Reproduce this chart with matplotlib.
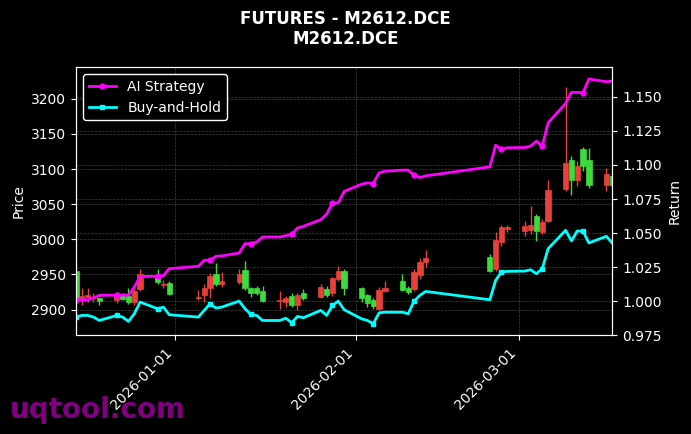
import numpy as np
import pandas as pd
import matplotlib
matplotlib.use('Agg')
import matplotlib.pyplot as plt
import matplotlib.dates as mdates
from matplotlib.ticker import FormatStrFormatter, MultipleLocator

# trading days
dates = ['2025-12-15', '2025-12-16', '2025-12-17', '2025-12-18', '2025-12-19',
         '2025-12-22', '2025-12-23', '2025-12-24', '2025-12-25', '2025-12-26',
         '2025-12-29', '2025-12-30', '2025-12-31', '2026-01-05', '2026-01-06',
         '2026-01-07', '2026-01-08', '2026-01-09', '2026-01-12', '2026-01-13',
         '2026-01-14', '2026-01-15', '2026-01-16', '2026-01-19', '2026-01-20',
         '2026-01-21', '2026-01-22', '2026-01-23', '2026-01-26', '2026-01-27',
         '2026-01-28', '2026-01-29', '2026-01-30', '2026-02-02', '2026-02-03',
         '2026-02-04', '2026-02-05', '2026-02-06', '2026-02-09', '2026-02-10',
         '2026-02-11', '2026-02-12', '2026-02-13', '2026-02-24', '2026-02-25',
         '2026-02-26', '2026-02-27', '2026-03-02', '2026-03-03', '2026-03-04',
         '2026-03-05', '2026-03-06', '2026-03-09', '2026-03-10', '2026-03-11',
         '2026-03-12', '2026-03-13', '2026-03-16', '2026-03-17']

opens = [2954.8, 2916, 2918, 2916, 2916, 2914, 2919, 2919, 2910, 2929,
         2948, 2935, 2937.5, 2916, 2920, 2930, 2950, 2937, 2939, 2956,
         2930, 2930, 2927, 2912, 2911, 2919, 2907, 2924, 2918, 2929,
         2924, 2944, 2955, 2930, 2920, 2913, 2901, 2927, 2941, 2930,
         2929, 2949, 2967, 2975, 2958, 2996, 3015, 3012, 3013, 3033,
         3010, 3026, 3071, 3112.5, 3084, 3128, 3112.5, 3078, 3090]
highs = [2955, 2930, 2930, 2924, 2917, 2925, 2923, 2930, 2929, 2957,
         2957, 2942, 2941, 2928, 2937, 2952, 2966, 2953, 2958, 2969,
         2932, 2934, 2933, 2927, 2919, 2923, 2923, 2929, 2936, 2933,
         2946, 2962, 2957, 2932, 2922, 2916, 2932, 2940, 2950, 2933,
         2957, 2973, 2985, 2979, 3010, 3021, 3021, 3026, 3048, 3036,
         3029, 3084, 3217, 3118, 3111, 3132, 3130, 3101, 3092]
lows = [2916, 2906, 2911, 2911, 2906, 2909, 2913, 2908, 2906, 2927,
        2937, 2930, 2920, 2913, 2911, 2916, 2934, 2932, 2936, 2928,
        2918, 2920, 2911, 2901, 2904, 2903, 2900, 2914, 2917, 2918,
        2919, 2940, 2921, 2910, 2904, 2901, 2899, 2925, 2926, 2922,
        2926, 2943, 2960, 2953, 2955, 2990, 3010, 3005, 3008, 2997,
        3008, 3024, 3069, 3063, 3076, 3097, 3073, 3069, 3075]
closes = [2916.5, 2919, 2921, 2918, 2911.5, 2922, 2915, 2910, 2927, 2950,
          2939, 2937, 2921.6, 2918, 2931, 2948, 2937, 2941, 2950, 2930,
          2924, 2924, 2911.5, 2913, 2916, 2906, 2920, 2916, 2932, 2920,
          2945, 2955, 2930, 2916, 2909, 2905, 2928, 2931, 2928, 2925,
          2954, 2968, 2974, 2955, 2999, 3017, 3017, 3018.5, 3021, 3012,
          3025, 3070, 3108, 3084, 3104, 3104, 3077, 3093.5, 3078]

ai_strategy = [1.0007, 1.0012, 1.0012, 1.0027, 1.0044, 1.0046, 1.0046, 1.0046, 1.0105, 1.0183,
               1.0183, 1.0188, 1.0240, 1.0257, 1.0301, 1.0301, 1.0330, 1.0333, 1.0355, 1.0423,
               1.0423, 1.0435, 1.0472, 1.0472, 1.0482, 1.0492, 1.0538, 1.0550, 1.0599, 1.0639,
               1.0722, 1.0722, 1.0806, 1.0859, 1.0869, 1.0864, 1.0942, 1.0954, 1.0962, 1.0962,
               1.0925, 1.0908, 1.0920, 1.0986, 1.1145, 1.1114, 1.1126, 1.1128, 1.1138, 1.1175,
               1.1138, 1.1309, 1.1451, 1.1532, 1.1532, 1.1530, 1.1630, 1.1610, 1.1615]
buy_hold = [0.9885, 0.9897, 0.9897, 0.9885, 0.9860, 0.9897, 0.9885, 0.9853, 0.9909, 0.9995,
            0.9946, 0.9958, 0.9902, 0.9885, 0.9934, 0.9983, 0.9951, 0.9958, 1.0002, 0.9946,
            0.9904, 0.9897, 0.9860, 0.9860, 0.9877, 0.9843, 0.9890, 0.9880, 0.9934, 0.9897,
            0.9970, 1.0002, 0.9939, 0.9872, 0.9860, 0.9836, 0.9916, 0.9921, 0.9921, 0.9909,
            1.0002, 1.0044, 1.0073, 1.0012, 1.0154, 1.0215, 1.0220, 1.0222, 1.0232, 1.0203,
            1.0240, 1.0386, 1.0521, 1.0443, 1.0516, 1.0514, 1.0428, 1.0477, 1.0428]

plt.style.use('dark_background')
fig = plt.figure(figsize=(6.91, 4.34), dpi=100)

# watermark goes under everything else
fig.text(0.014, 0.037, 'uqtool.com', fontsize=20, fontweight='bold',
         color='#800080', zorder=-5)

ax = fig.add_axes([0.110, 0.227, 0.776, 0.618])
ax.patch.set_alpha(0)

x = mdates.date2num(pd.to_datetime(dates))
o = np.array(opens)
c = np.array(closes)
up = c >= o
col = np.where(up, '#e8413c', '#3ddc3d')

# candles: red up, green down
ax.vlines(x, lows, highs, colors=col, linewidth=1, zorder=2)
body = np.maximum(np.abs(c - o), 0.8)
ax.bar(x, body, bottom=np.minimum(o, c), width=0.9, color=col,
       edgecolor=col, linewidth=0.5, zorder=3)

ax.set_ylim(2863, 3245)
ax.set_xlim(x[0], x[-1])
ax.set_ylabel('Price', fontsize=10)
ax.grid(True, linestyle='--', linewidth=0.5, color='gray', alpha=0.5)
ax.xaxis.set_major_locator(mdates.MonthLocator())
ax.xaxis.set_major_formatter(mdates.DateFormatter('%Y-%m-%d'))
plt.setp(ax.get_xticklabels(), rotation=45, ha='right', fontsize=10)

ax2 = ax.twinx()
ax2.plot(x, ai_strategy, color='#ff00ff', linewidth=2, marker='o',
         markersize=3.5, markevery=5, label='AI Strategy')
ax2.plot(x, buy_hold, color='#00ffff', linewidth=2, marker='s',
         markersize=3.5, markevery=5, label='Buy-and-Hold')
ax2.set_ylim(0.975, 1.1716)
ax2.yaxis.set_major_locator(MultipleLocator(0.025))
ax2.yaxis.set_major_formatter(FormatStrFormatter('%.3f'))
ax2.set_ylabel('Return', fontsize=10)
ax2.grid(True, linestyle='--', linewidth=0.5, color='gray', alpha=0.5)
ax2.set_xlim(x[0], x[-1])

for a in (ax, ax2):
    for s in a.spines.values():
        s.set_color('white')

leg = ax2.legend(loc='upper left', fontsize=10, facecolor='black',
                 edgecolor='white', framealpha=1)

fig.suptitle('FUTURES - M2612.DCE\nM2612.DCE', fontsize=12,
             fontweight='bold', y=0.978)

fig.savefig('out.png', dpi=100)
